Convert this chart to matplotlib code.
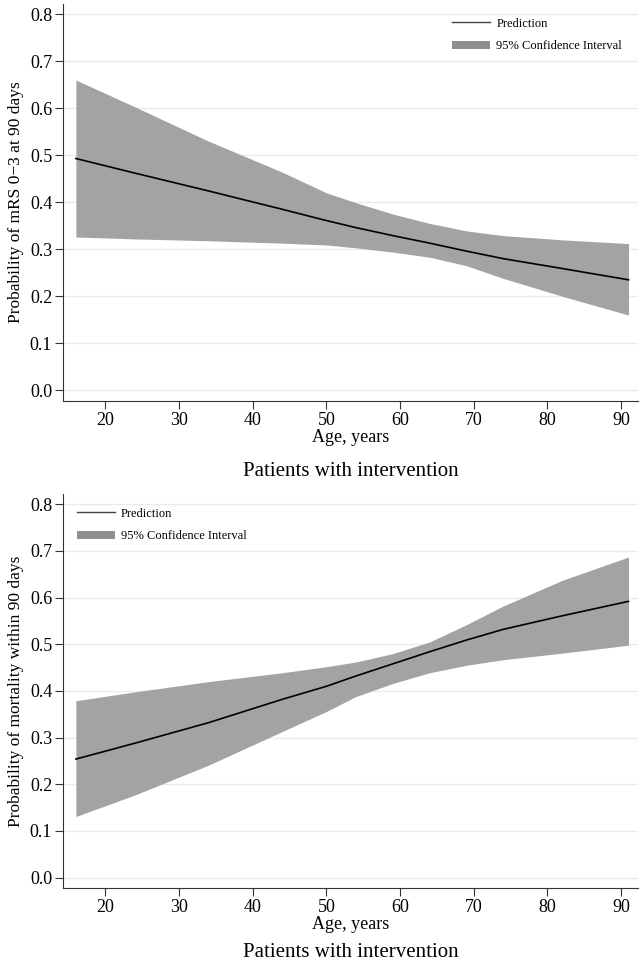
import numpy as np
import matplotlib.pyplot as plt
from matplotlib.patches import Patch
from matplotlib.lines import Line2D

plt.rcParams['font.family'] = ['Liberation Serif', 'DejaVu Serif']

age = [16, 24, 34, 44, 50, 54, 59, 64, 69, 74, 82, 91]

# panel 1: probability of mRS 0-3 at 90 days
mrs_pred = [0.493, 0.462, 0.424, 0.385, 0.361, 0.346, 0.329, 0.313, 0.296, 0.280, 0.259, 0.235]
mrs_hi = [0.660, 0.603, 0.530, 0.464, 0.420, 0.399, 0.375, 0.355, 0.339, 0.329, 0.320, 0.312]
mrs_lo = [0.326, 0.322, 0.318, 0.313, 0.309, 0.303, 0.294, 0.283, 0.265, 0.238, 0.200, 0.160]

# panel 2: probability of mortality within 90 days
mort_pred = [0.254, 0.288, 0.332, 0.382, 0.410, 0.432, 0.458, 0.484, 0.509, 0.532, 0.561, 0.592]
mort_hi = [0.379, 0.398, 0.420, 0.439, 0.452, 0.462, 0.480, 0.505, 0.542, 0.582, 0.637, 0.687]
mort_lo = [0.131, 0.177, 0.241, 0.313, 0.356, 0.388, 0.416, 0.439, 0.455, 0.467, 0.481, 0.498]

xticks = [20, 30, 40, 50, 60, 70, 80, 90]
yticks = [0.0, 0.1, 0.2, 0.3, 0.4, 0.5, 0.6, 0.7, 0.8]

fig = plt.figure(figsize=(6.4, 9.63), dpi=100)
ax1 = fig.add_axes([0.099, 0.584, 0.898, 0.412])
ax2 = fig.add_axes([0.099, 0.078, 0.898, 0.409])

panels = [
    (ax1, mrs_pred, mrs_lo, mrs_hi, 'Probability of mRS 0\u22123 at 90 days', 'upper right', (0.972, 0.965)),
    (ax2, mort_pred, mort_lo, mort_hi, 'Probability of mortality within 90 days', 'upper left', (0.024, 0.965)),
]

for ax, pred, lo, hi, ylab, loc, anchor in panels:
    ax.fill_between(age, lo, hi, color='#a3a3a3', lw=0, zorder=2)
    ax.plot(age, pred, color='black', lw=1.2, zorder=3)
    ax.set_xlim(14.3, 92.3)
    ax.set_ylim(-0.022, 0.822)
    ax.set_xticks(xticks)
    ax.set_yticks(yticks)
    ax.set_yticklabels([f'{v:.1f}' for v in yticks])
    ax.grid(axis='y', color='#e4eef0', lw=1, zorder=0)
    ax.spines['top'].set_visible(False)
    ax.spines['right'].set_visible(False)
    ax.spines['left'].set_color('#333333')
    ax.spines['bottom'].set_color('#333333')
    ax.tick_params(labelsize=13, length=6, color='#333333', direction='out', pad=2)
    ax.set_xlabel('Age, years', fontsize=13, labelpad=0)
    ax.set_ylabel(ylab, fontsize=12.5, labelpad=4)
    handles = [Line2D([], [], color='#444444', lw=1),
               Patch(facecolor='#8f8f8f', edgecolor='none')]
    ax.legend(handles, ['Prediction', '95% Confidence Interval'], loc=loc,
              bbox_to_anchor=anchor, frameon=False, fontsize=9,
              handlelength=3.0, handleheight=0.7, handletextpad=0.5,
              labelspacing=0.85, borderaxespad=0, borderpad=0)

fig.text(0.548, 0.510, 'Patients with intervention', ha='center', va='center', fontsize=15)
fig.text(0.548, 0.011, 'Patients with intervention', ha='center', va='center', fontsize=15)

fig.savefig('out.png', dpi=100, facecolor='white')
